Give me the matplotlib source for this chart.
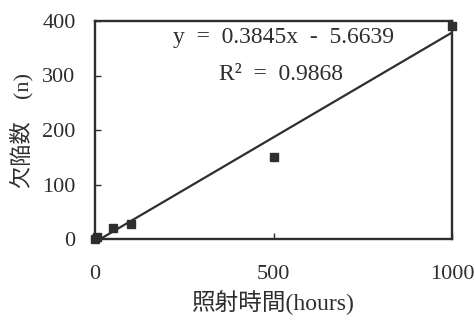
import matplotlib
matplotlib.use("Agg")
import matplotlib.pyplot as plt
import numpy as np

# data
hours = [0, 5, 50, 100, 500, 1000]
defects = [0, 3, 20, 27, 150, 390]
slope = 0.3845
intercept = -5.6639
r2 = 0.9868
x_ticks = [0, 500, 1000]
y_ticks = [0, 100, 200, 300, 400]

FONT = ['Liberation Serif', 'Noto Sans CJK JP', 'DejaVu Sans']
INK = '#2e2e2e'
plt.rcParams['font.family'] = FONT

fig = plt.figure(figsize=(4.76, 3.23), dpi=100)
ax = fig.add_axes([95/476, 1 - 239/323, (452-95)/476, (239-21)/323])

xf = np.array([0, 1000])
ax.plot(xf, slope * xf + intercept, color=INK, lw=1.6, zorder=2, clip_on=True)
ax.plot(hours, defects, 's', color=INK, ms=5.5, zorder=3, clip_on=False)

ax.set_xlim(0, 1000)
ax.set_ylim(0, 400)
ax.set_xticks(x_ticks)
ax.set_yticks(y_ticks)
ax.tick_params(axis='both', direction='in', length=4, width=1, color=INK,
               labelsize=16, labelcolor=INK)
ax.tick_params(axis='x', pad=19)
ax.tick_params(axis='y', pad=14)
for s in ax.spines.values():
    s.set_linewidth(1.7)
    s.set_color(INK)

ax.text(528, 369, f"y  =  {slope}x  -  {abs(intercept)}", ha='center', va='center',
        fontsize=17, color=INK)
ax.text(522, 302, f"R²  =  {r2}", ha='center', va='center', fontsize=17, color=INK)

ax.set_xlabel("照射時間(hours)", fontsize=17, color=INK, labelpad=4)
ax.set_ylabel("欠陥数\u3000(n)", fontsize=16, color=INK, labelpad=6)

fig.savefig("out.png", dpi=100, facecolor='white')
